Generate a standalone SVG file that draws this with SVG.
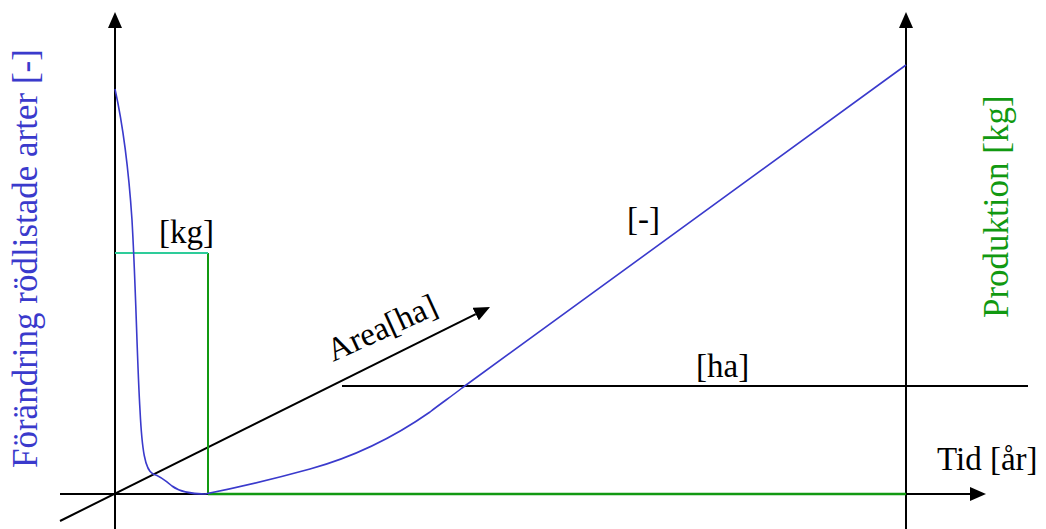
<svg xmlns="http://www.w3.org/2000/svg" width="1046" height="529" viewBox="0 0 1046 529">
  <style>
    .ax { stroke: #000; stroke-width: 2; fill: none; }
    .blue { stroke: #3a3acc; stroke-width: 1.6; fill: none; }
    .green { stroke: #119911; fill: none; }
    .lbl { font-family: 'Liberation Serif', 'Times New Roman', serif; font-size: 33px; fill: #000; }
  </style>
  <defs>
    <marker id="arr" viewBox="0 0 16 14" refX="0" refY="7" markerWidth="16" markerHeight="14" markerUnits="userSpaceOnUse" orient="auto">
      <path d="M0,0 L16,7 L0,14 z" fill="#000"/>
    </marker>
  </defs>
  <rect width="1046" height="529" fill="#fff"/>

  <g id="connectors">
    <line id="y-axis-left" class="ax" x1="115" y1="529" x2="115" y2="28" marker-end="url(#arr)"/>
    <line id="y-axis-right" class="ax" x1="906" y1="529" x2="906" y2="28" marker-end="url(#arr)"/>
    <line id="x-axis" class="ax" x1="60" y1="494" x2="970" y2="494" marker-end="url(#arr)"/>
    <line id="area-axis" class="ax" x1="60" y1="521" x2="475.7" y2="314.1" marker-end="url(#arr)"/>
    <line id="ha-line" class="ax" x1="342" y1="386" x2="1028" y2="386"/>
    <line id="prod-base" class="green" stroke-width="2.5" x1="208" y1="494" x2="906" y2="494"/>
    <line id="prod-vert" class="green" stroke-width="2" x1="208" y1="253" x2="208" y2="494"/>
    <line id="prod-top" stroke="#2ecc9a" stroke-width="2" x1="115" y1="253" x2="208" y2="253"/>
  </g>

  <g id="curve">
    <path class="blue" d="M115,89 C124,130 129,175 132,220 C136,290 137,360 140,410 C142,450 145,470 153,474 C160,476 165,480 172,486 C180,492 190,494 205,494 C230,489 270,480 310,469 C350,458 390,440 430,412 C440,404 452,396 462,388 L906,65"/>
  </g>

  <g id="label-y-left">
    <text class="lbl" style="fill:#3a3acc;font-size:35px" transform="translate(37,468) rotate(-90)">Förändring rödlistade arter [-]</text>
  </g>
  <g id="label-y-right">
    <text class="lbl" style="fill:#119911;font-size:35px" transform="translate(1008,318) rotate(-90)">Produktion [kg]</text>
  </g>
  <g id="label-kg">
    <text class="lbl" x="159" y="243">[kg]</text>
  </g>
  <g id="label-dash">
    <text class="lbl" x="627" y="230">[-]</text>
  </g>
  <g id="label-ha">
    <text class="lbl" x="696" y="377">[ha]</text>
  </g>
  <g id="label-time">
    <text class="lbl" x="937" y="470">Tid [år]</text>
  </g>
  <g id="label-area">
    <text class="lbl" transform="translate(333,362) rotate(-24.5)">Area[ha]</text>
  </g>
</svg>
